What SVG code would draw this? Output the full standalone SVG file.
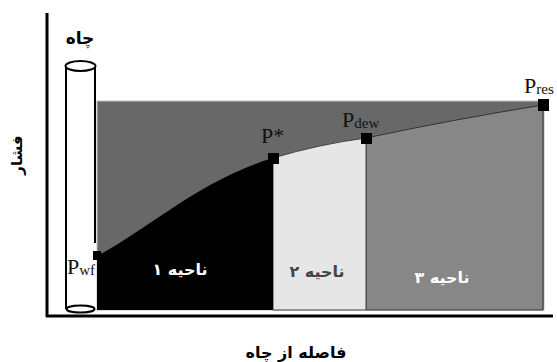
<svg xmlns="http://www.w3.org/2000/svg" width="557" height="362" viewBox="0 0 557 362">
<style>
.fa{font-family:"DejaVu Sans","Noto Sans",sans-serif;font-weight:bold}
.pl{font-family:"Liberation Serif","Times New Roman",serif;fill:#111}
.pt{font-size:22px}
.sb{font-size:15px}
.mk{fill:#000}
.ax{stroke:#000;stroke-width:3;fill:none}
</style>
<rect width="557" height="362" fill="#fff"/>
<g id="background">
<rect x="97" y="101" width="447" height="209" fill="#686868" stroke="#bdbdbd" stroke-width="1"/>
</g>
<g id="region3">
<path d="M366,138 Q450,120 543,105 L543,310 L366,310 Z" fill="#878787" stroke="#333" stroke-width="1"/>
<text class="fa" x="442" y="283" font-size="16" fill="#fff" text-anchor="middle" direction="rtl">ناحیه ۳</text>
</g>
<g id="region2">
<path d="M273,158 Q320,144 366,138 L366,310 L273,310 Z" fill="#e6e6e6" stroke="#444" stroke-width="1"/>
<text class="fa" x="317" y="277" font-size="16" fill="#444" text-anchor="middle" direction="rtl">ناحیه ۲</text>
</g>
<g id="region1">
<path d="M97,256 C150,228 200,180 273,158 L273,310 L97,310 Z" fill="#000"/>
<text class="fa" x="180" y="275" font-size="16" fill="#fff" text-anchor="middle" direction="rtl">ناحیه ۱</text>
</g>
<g id="well">
<path d="M66,66 L66,309 M95,66 L95,243" stroke="#000" stroke-width="2" fill="none"/>
<ellipse cx="80.5" cy="66" rx="15" ry="5" fill="#fff" stroke="#000" stroke-width="2"/>
<ellipse cx="80.5" cy="309" rx="14" ry="3.5" fill="#fff" stroke="#000" stroke-width="2"/>
<text class="fa" x="80" y="44" font-size="17" fill="#000" text-anchor="middle" direction="rtl">چاه</text>
</g>
<g id="axes">
<path class="ax" d="M47,13 L47,317 M46,316 L553,316"/>
<text class="fa" transform="translate(22,155) rotate(-90)" font-size="15" fill="#000" text-anchor="middle" direction="rtl">فشار</text>
<text class="fa" x="296" y="358" font-size="16" fill="#000" text-anchor="middle" direction="rtl">فاصله از چاه</text>
</g>
<g id="points">
<rect class="mk" x="93" y="251" width="8" height="9"/>
<rect class="mk" x="268" y="153" width="11" height="11"/>
<rect class="mk" x="361" y="133" width="11" height="11"/>
<rect class="mk" x="538" y="99" width="11" height="12"/>
<text class="pl" x="67" y="274"><tspan class="pt">P</tspan><tspan class="sb" dy="1">wf</tspan></text>
<text class="pl" x="261" y="143"><tspan class="pt">P*</tspan></text>
<text class="pl" x="342" y="127"><tspan class="pt">P</tspan><tspan class="sb" dy="1">dew</tspan></text>
<text class="pl" x="524" y="93"><tspan class="pt">P</tspan><tspan class="sb" dy="1">res</tspan></text>
</g>
</svg>
